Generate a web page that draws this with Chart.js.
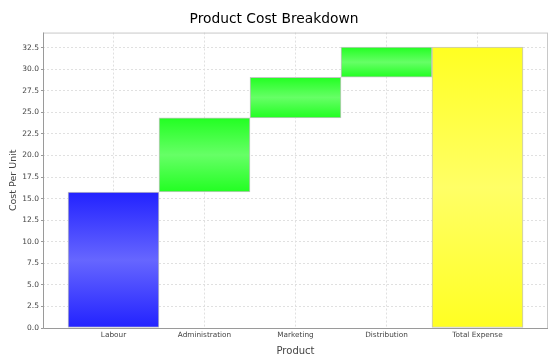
<!DOCTYPE html>
<html>
<head>
<meta charset="utf-8">
<script src="https://cdn.jsdelivr.net/npm/chart.js@4"></script>
<style>
html,body{margin:0;padding:0;background:#fff;}
#wrap{width:558px;height:357px;position:relative;}
</style>
</head>
<body>
<div id="wrap"><canvas id="c" width="558" height="357"></canvas></div>
<script>
const categories = ["Labour", "Administration", "Marketing", "Distribution", "Total Expense"];
const increments = [15.76, 8.60, 4.70, 3.50];
const yTickValues = [0, 2.5, 5, 7.5, 10, 12.5, 15, 17.5, 20, 22.5, 25, 27.5, 30, 32.5];
const barKinds = ["start", "up", "up", "up", "total"];

// floating bars built from the increments
const floating = [];
let run = 0;
increments.forEach(v => { floating.push([run, run + v]); run += v; });
floating.push([0, run]);
const points = floating.map((r, i) => ({ x: i, y: r }));

const palette = {
  start: ["#2222ff", "#6666ff"],
  up: ["#22ff22", "#66ff66"],
  total: ["#ffff22", "#ffff66"]
};

function gradFill(ctx) {
  const chart = ctx.chart;
  if (!chart.chartArea || ctx.raw === undefined) return "#888";
  const y = chart.scales.y;
  const r = ctx.raw.y;
  const top = y.getPixelForValue(Math.max(r[0], r[1]));
  const bot = y.getPixelForValue(Math.min(r[0], r[1]));
  const [dark, light] = palette[barKinds[ctx.dataIndex]];
  const g = chart.ctx.createLinearGradient(0, top, 0, bot);
  g.addColorStop(0, dark);
  g.addColorStop(0.5, light);
  g.addColorStop(1, dark);
  return g;
}

const outline = {
  id: "outline",
  afterDatasetsDraw(chart) {
    const { ctx, chartArea: a } = chart;
    ctx.save();
    ctx.strokeStyle = "#c8c8c8";
    ctx.lineWidth = 1;
    ctx.strokeRect(a.left + 0.5, a.top + 0.5, a.right - a.left - 1, a.bottom - a.top);
    ctx.strokeStyle = "#9a9a9a";
    ctx.beginPath();
    ctx.moveTo(a.left + 0.5, a.top); ctx.lineTo(a.left + 0.5, a.bottom + 0.5);
    ctx.lineTo(a.right, a.bottom + 0.5);
    ctx.stroke();
    ctx.restore();
  }
};

const extra = 25 / 91;

new Chart(document.getElementById("c"), {
  type: "bar",
  data: {
    datasets: [{
      data: points,
      backgroundColor: gradFill,
      borderColor: "#c4c4c4",
      borderWidth: 1,
      borderSkipped: false,
      barPercentage: 1,
      categoryPercentage: 1
    }]
  },
  options: {
    responsive: false,
    animation: false,
    layout: { padding: { left: 0, right: 10, top: 0, bottom: 0 } },
    plugins: {
      legend: { display: false },
      tooltip: { enabled: false },
      title: {
        display: true,
        text: "Product Cost Breakdown",
        color: "#000",
        font: { family: "DejaVu Sans", size: 13.8, weight: "normal" },
        padding: { top: 11, bottom: 5 }
      }
    },
    scales: {
      x: {
        type: "linear",
        offset: false,
        min: -0.5 - extra,
        max: categories.length - 0.5 + extra,
        afterBuildTicks: axis => { axis.ticks = categories.map((_, i) => ({ value: i })); },
        afterFit: axis => { axis.height = 29; },
        ticks: {
          callback: v => categories[v],
          color: "#444",
          font: { family: "DejaVu Sans", size: 7.3 },
          maxRotation: 0,
          autoSkip: false,
          padding: 3
        },
        grid: {
          offset: false,
          color: "#e0e0e0",
          drawTicks: false,
          tickLength: 0
        },
        border: { display: false, dash: [2, 2] },
        title: {
          display: true,
          text: "Product",
          color: "#444",
          font: { family: "DejaVu Sans", size: 10 },
          padding: { top: 0, bottom: 0 }
        }
      },
      y: {
        min: 0,
        max: 34.24,
        afterBuildTicks: axis => { axis.ticks = yTickValues.map(v => ({ value: v })); },
        afterFit: axis => { axis.width = 43; },
        ticks: {
          callback: v => v.toFixed(1),
          color: "#444",
          font: { family: "DejaVu Sans", size: 7.5 },
          padding: 2
        },
        grid: {
          color: "#e0e0e0",
          tickColor: "#9a9a9a",
          tickBorderDash: [],
          tickLength: 2
        },
        border: { display: false, dash: [2, 2] },
        title: {
          display: true,
          text: "Cost Per Unit",
          color: "#444",
          font: { family: "DejaVu Sans", size: 9.5 },
          padding: { top: 8, bottom: 0 }
        }
      }
    }
  },
  plugins: [outline]
});
</script>
</body>
</html>
